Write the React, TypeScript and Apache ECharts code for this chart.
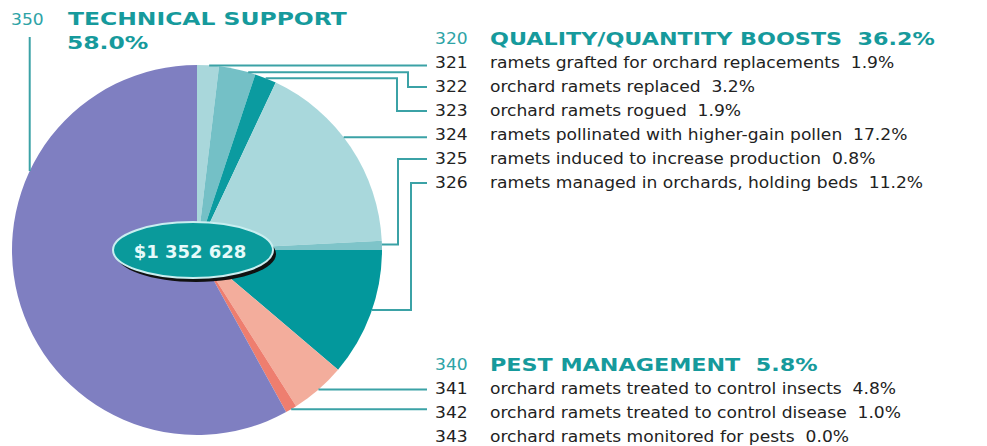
import React, { useEffect, useRef } from "react";
import * as echarts from "echarts";

// ---- data ----
const sliceCodes = ["321", "322", "323", "324", "325", "326", "341", "342", "343", "350"];
const sliceValues = [1.9, 3.2, 1.9, 17.2, 0.8, 11.2, 4.8, 1.0, 0.0, 58.0];
const sliceColors = ["#a9d7db", "#74c0c6", "#0b9ba0", "#a9d8dc", "#7ec4c9", "#03989c", "#f3ad9c", "#ee7e6f", "#ee7e6f", "#7f7fc1"];

const qualityCodes = ["321", "322", "323", "324", "325", "326"];
const qualityLabels = [
  "ramets grafted for orchard replacements",
  "orchard ramets replaced",
  "orchard ramets rogued",
  "ramets pollinated with higher-gain pollen",
  "ramets induced to increase production",
  "ramets managed in orchards, holding beds",
];
const pestCodes = ["341", "342", "343"];
const pestLabels = [
  "orchard ramets treated to control insects",
  "orchard ramets treated to control disease",
  "orchard ramets monitored for pests",
];
const groupCodes = ["350", "320", "340"];
const groupTitles = ["TECHNICAL SUPPORT", "QUALITY/QUANTITY BOOSTS", "PEST MANAGEMENT"];
const groupPercents = [58.0, 36.2, 5.8];
const totalLabel = "$1 352 628";

// ---- layout ----
const CX = 197, CY = 250, R = 185;
const TEAL_LINE = "#3ba2a6";
const TEAL_TEXT = "#2ea3a6";
const TEAL_HEAD = "#169a9c";
const BODY = '16px "DejaVu Sans", Verdana, sans-serif';
const HEAD = 'bold 17px "DejaVu Sans", Verdana, sans-serif';
const BODY_SX = 1.07, HEAD_SX_TECH = 1.38, HEAD_SX = 1.31;
const NUM_X = 435, TEXT_X = 490, LINE_END = 427;
const topRowY = 39, bottomRowY = 365, rowGap = 24;
// per-slice: anchor fraction within slice, elbow x (null = straight)
const anchorFrac: Record<string, number> = { "321": 0.55, "322": 0.8, "323": 0.5, "324": 0.44, "325": 0.4, "326": 0.47, "341": 0.5, "342": 0.5, "350": 0.69 };
const elbowX: Record<string, number | null> = { "321": null, "322": 408, "323": 397, "324": null, "325": 398, "326": 411, "341": null, "342": null };

function pt(frac: number) {
  const a = frac * 2 * Math.PI;
  return [CX + R * Math.sin(a), CY - R * Math.cos(a)];
}

function txt(text: string, x: number, y: number, font: string, fill: string, sx: number) {
  return { type: "text", x, y, scaleX: sx, z: 5, style: { text, x: 0, y: 0, font, fill, verticalAlign: "middle" } };
}

export default function App() {
  const ref = useRef<HTMLDivElement>(null);
  useEffect(() => {
    if (!ref.current) return;
    const chart = echarts.init(ref.current, null, { renderer: "svg" });
    const total = sliceValues.reduce((s, v) => s + v, 0);
    const anchors: Record<string, number[]> = {};
    let cum = 0;
    sliceValues.forEach((v, i) => {
      const f = anchorFrac[sliceCodes[i]];
      if (f !== undefined) anchors[sliceCodes[i]] = pt((cum + v * f) / total);
      cum += v;
    });
    const fmt = (v: number) => v.toFixed(1) + "%";
    const els: any[] = [];
    const rowTarget: Record<string, number> = {};
    qualityCodes.forEach((c, i) => (rowTarget[c] = topRowY + rowGap * (i + 1)));
    pestCodes.forEach((c, i) => (rowTarget[c] = bottomRowY + rowGap * (i + 1)));

    // leader lines
    Object.keys(elbowX).forEach((c) => {
      const a = anchors[c];
      const ex = elbowX[c];
      const ty = rowTarget[c];
      const points = ex == null ? [a, [LINE_END, a[1]]] : [a, [ex, a[1]], [ex, ty], [LINE_END, ty]];
      els.push({ type: "polyline", z: 10, shape: { points }, style: { stroke: TEAL_LINE, lineWidth: 2, fill: "none" } });
    });
    const a350 = anchors["350"];
    els.push({ type: "polyline", z: 10, shape: { points: [a350, [a350[0], 37]] }, style: { stroke: TEAL_LINE, lineWidth: 2, fill: "none" } });

    // group headers
    els.push(txt(groupCodes[0], 11, 20, BODY, TEAL_TEXT, BODY_SX));
    els.push(txt(groupTitles[0], 68, 19, HEAD, TEAL_HEAD, HEAD_SX_TECH));
    els.push(txt(fmt(groupPercents[0]), 67, 43, HEAD, TEAL_HEAD, HEAD_SX_TECH));
    els.push(txt(groupCodes[1], NUM_X, topRowY, BODY, TEAL_TEXT, BODY_SX));
    els.push(txt(groupTitles[1] + "  " + fmt(groupPercents[1]), TEXT_X, topRowY, HEAD, TEAL_HEAD, HEAD_SX));
    els.push(txt(groupCodes[2], NUM_X, bottomRowY, BODY, TEAL_TEXT, BODY_SX));
    els.push(txt(groupTitles[2] + "  " + fmt(groupPercents[2]), TEXT_X, bottomRowY, HEAD, TEAL_HEAD, HEAD_SX));

    const valOf = (c: string) => sliceValues[sliceCodes.indexOf(c)];
    const rows = (codes: string[], labels: string[]) =>
      codes.forEach((c, i) => {
        const y = rowTarget[c];
        els.push(txt(c, NUM_X, y, BODY, "#222", BODY_SX));
        els.push(txt(labels[i] + "  " + fmt(valOf(c)), TEXT_X, y, BODY, "#222", BODY_SX));
      });
    rows(qualityCodes, qualityLabels);
    rows(pestCodes, pestLabels);

    // centre ellipse
    els.push({ type: "ellipse", z: 20, shape: { cx: 196, cy: 254, rx: 80, ry: 28 }, style: { fill: "#111" } });
    els.push({ type: "ellipse", z: 21, shape: { cx: 193, cy: 250, rx: 80, ry: 28 }, style: { fill: "#0a9a9b", stroke: "#c9eef0", lineWidth: 2 } });
    els.push({ type: "text", z: 22, style: { text: totalLabel, x: 190, y: 251, font: 'bold 18px "DejaVu Sans", Verdana, sans-serif', fill: "#e6fafa", align: "center", verticalAlign: "middle" } });

    chart.setOption({
      animation: false,
      series: [
        {
          type: "pie",
          center: [CX, CY],
          radius: R,
          startAngle: 90,
          clockwise: true,
          silent: true,
          label: { show: false },
          labelLine: { show: false },
          itemStyle: { borderWidth: 0 },
          data: sliceValues.map((v, i) => ({ name: sliceCodes[i], value: v, itemStyle: { color: sliceColors[i] } })),
        },
      ],
      graphic: { elements: els },
    });
    return () => chart.dispose();
  }, []);
  return <div ref={ref} style={{ position: "fixed", left: 0, top: 0, width: 987, height: 446, background: "#fff" }} />;
}
